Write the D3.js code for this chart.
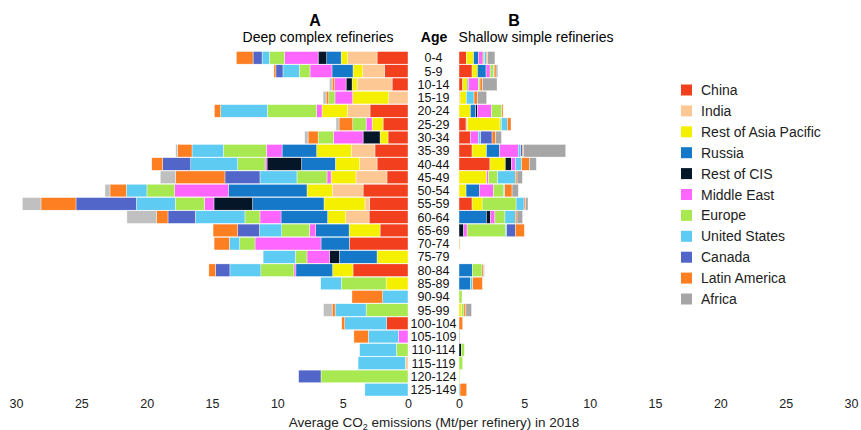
<!DOCTYPE html>
<html>
<head>
<meta charset="utf-8">
<script src="https://cdn.jsdelivr.net/npm/d3@7"></script>
<style>
  body { margin: 0; background: #fff; }
  svg { font-family: "Liberation Sans", Arial, sans-serif; }
  .tick text { font-family: "Liberation Sans", Arial, sans-serif; font-size: 12.5px; fill: #222; }
</style>
</head>
<body>
<svg id="chart" width="861" height="430"></svg>
<script>
// regions in stacking order, from the age column outwards
var regions = ["China", "India", "Rest of Asia Pacific", "Russia", "Rest of CIS", "Middle East",
    "Europe", "United States", "Canada", "Latin America", "Africa"]

var ages = ["0-4", "5-9", "10-14", "15-19", "20-24", "25-29", "30-34", "35-39", "40-44", "45-49",
    "50-54", "55-59", "60-64", "65-69", "70-74", "75-79", "80-84", "85-89", "90-94", "95-99",
    "100-104", "105-109", "110-114", "115-119", "120-124", "125-149"]

var tickValues = [0, 5, 10, 15, 20, 25, 30]

// Mt CO2 per refinery, one row per age group, columns follow regions
var deepValues = [
    [2.37, 2.24, 0.51, 1.10, 0.66, 2.58, 1.15, 0.56, 0.69, 1.28, 0],
    [1.81, 1.66, 0.74, 1.61, 0, 1.68, 0.82, 1.25, 0.54, 0.15, 0],
    [1.22, 2.68, 0.38, 0, 0.46, 0.87, 0, 0, 0, 0.2, 0.2],
    [0, 1.48, 2.76, 0, 0, 1.35, 0.48, 0, 0, 0.2, 0.23],
    [2.91, 1.73, 1.94, 0, 0, 0.41, 3.78, 3.57, 0, 0.48, 0],
    [1.91, 0, 0.84, 0, 0, 0.46, 1.02, 0, 0, 1.05, 0.23],
    [1.53, 0, 0.61, 0, 1.30, 2.27, 1.17, 0, 0, 0.77, 0.26],
    [2.53, 1.81, 2.65, 2.65, 0, 1.20, 3.29, 2.40, 0, 1.10, 0.15],
    [2.37, 1.33, 1.86, 2.58, 2.65, 0.15, 2.09, 3.60, 2.14, 0.84, 0],
    [1.61, 2.37, 1.91, 0, 0, 0.31, 2.30, 2.83, 2.68, 3.78, 1.17],
    [3.44, 2.35, 1.94, 6.02, 0, 4.11, 2.12, 1.58, 0, 1.25, 0.38],
    [2.93, 0.36, 3.14, 5.46, 2.96, 0.74, 2.22, 2.98, 4.62, 2.68, 1.43],
    [2.98, 1.79, 1.38, 3.57, 0, 1.61, 1.15, 3.80, 2.09, 0.87, 2.27],
    [2.14, 0, 2.37, 2.55, 0, 0.48, 2.12, 1.71, 1.66, 1.89, 0],
    [4.49, 0, 0, 2.17, 0, 5.05, 1.17, 0.79, 0, 1.17, 0],
    [0, 0, 2.37, 2.88, 0.77, 1.71, 0.89, 2.47, 0, 0, 0],
    [4.21, 0, 1.56, 2.81, 0, 0.15, 2.53, 2.37, 1.10, 0.51, 0],
    [0, 0, 1.68, 0, 0, 0, 3.42, 1.58, 0, 0, 0],
    [0, 0, 0, 0, 0, 0, 0, 1.94, 0, 2.35, 0],
    [0, 0, 0, 0, 0, 0, 3.21, 2.37, 0, 0.23, 0.66],
    [1.63, 0, 0, 0, 0, 0, 0, 3.21, 0, 0.23, 0],
    [0, 0, 0, 0, 0, 0.74, 0, 2.30, 0, 1.10, 0],
    [0, 0, 0, 0, 0, 0, 0.89, 2.81, 0, 0, 0],
    [0, 0.2, 0, 0, 0, 0, 0, 3.62, 0, 0, 0],
    [0, 0, 0, 0, 0, 0, 6.66, 0, 1.71, 0, 0],
    [0, 0, 0, 0, 0, 0, 0, 3.3, 0, 0, 0]
]

var shallowValues = [
    [0.56, 0, 0.56, 0.36, 0, 0.36, 0.1, 0.15, 0, 0.1, 0.56],
    [1.0, 0, 0.41, 0.66, 0, 0.31, 0.26, 0.05, 0, 0.15, 0.13],
    [0.28, 0, 0.36, 0.1, 0, 0.74, 0.13, 0, 0, 0.2, 1.10],
    [0, 0.08, 0.48, 0, 0, 0, 0, 0.59, 0, 0.26, 0.71],
    [0, 0, 0.87, 0.41, 0.13, 1.07, 0.79, 0, 0, 0.1, 0],
    [0.54, 0.1, 2.5, 0, 0, 0, 0.1, 0.46, 0, 0.28, 0],
    [0.87, 0, 0, 0, 0, 0.61, 0, 0.18, 0.87, 0.26, 0.46],
    [1.0, 0, 1.10, 1.0, 0, 1.43, 0, 0.2, 0.15, 0.08, 3.21],
    [2.37, 0, 1.17, 0, 0.46, 0.31, 0, 0.48, 0, 0.59, 0.54],
    [0, 0, 2.12, 0, 0, 0.13, 0.71, 1.35, 0, 0.13, 0.41],
    [0, 0, 0.54, 1.02, 0, 1.07, 0.77, 0.1, 0, 0.56, 0.48],
    [1.0, 0, 0.77, 0, 0, 0, 2.60, 0.61, 0, 0.1, 0.2],
    [0, 0, 0, 2.09, 0.33, 0.33, 0.77, 0.79, 0, 0.13, 0.43],
    [0, 0, 0, 0, 0.36, 0.26, 2.93, 0.1, 0.66, 0.69, 0],
    [0, 0.08, 0, 0, 0, 0, 0, 0, 0, 0, 0],
    [0, 0, 0, 0, 0, 0, 0, 0, 0, 0, 0],
    [0, 0, 0, 1.02, 0, 0, 0.74, 0, 0, 0.1, 0.08],
    [0, 0, 0, 0.87, 0, 0, 0, 0.18, 0, 0.74, 0],
    [0, 0, 0, 0, 0, 0, 0.23, 0, 0, 0, 0],
    [0, 0, 0.2, 0, 0, 0, 0.18, 0, 0, 0.15, 0.43],
    [0, 0, 0, 0, 0, 0, 0, 0, 0, 0.28, 0],
    [0, 0, 0, 0, 0, 0, 0, 0, 0, 0, 0.06],
    [0, 0, 0, 0, 0.18, 0, 0.23, 0, 0, 0, 0],
    [0, 0, 0, 0, 0, 0, 0.28, 0, 0, 0, 0],
    [0, 0, 0, 0, 0, 0, 0.06, 0, 0, 0, 0],
    [0, 0, 0, 0, 0, 0, 0, 0.08, 0, 0.51, 0]
]

var colors = ["#f2401f", "#fec894", "#f5f000", "#1578c8", "#061629", "#ff66ff",
    "#a8e851", "#5ecbf2", "#5166c8", "#fe7f22", "#a6a6a6"]
// left panel uses a lighter grey for Africa
var deepColors = colors.slice(0, 10).concat(["#c0c0c0"])

var svg = d3.select("#chart")

var y = d3.scaleBand().domain(ages).range([51.5, 396]).paddingInner(0.05)
var xLeft = d3.scaleLinear().domain([0, 30]).range([408, 16])
var xRight = d3.scaleLinear().domain([0, 30]).range([459, 851])

function drawPanel(values, x, cols, cls) {
    // turn each age row into stacked segments
    var rows = ages.map(function(age, i) {
        var row = { age: age }
        regions.forEach(function(r, j) { row[r] = values[i][j] })
        return row
    })
    var series = d3.stack().keys(regions)(rows)

    var g = svg.append("g").attr("class", cls)
    g.selectAll("g")
        .data(series)
        .enter().append("g")
        .attr("fill", function(d, i) { return cols[i] })
        .selectAll("rect")
        .data(function(d) { return d.filter(function(s) { return s[1] - s[0] > 0 }) })
        .enter().append("rect")
        .attr("x", function(d) { return Math.min(x(d[0]), x(d[1])) })
        .attr("width", function(d) { return Math.abs(x(d[1]) - x(d[0])) })
        .attr("y", function(d) { return y(d.data.age) })
        .attr("height", y.bandwidth())
        .attr("stroke", "#fff")
        .attr("stroke-width", 0.4)

    var axis = d3.axisBottom(x).tickValues(tickValues).tickSize(0).tickPadding(2)
    svg.append("g")
        .attr("transform", "translate(0,397)")
        .call(axis)
        .call(function(a) { a.select(".domain").remove() })
}

drawPanel(deepValues, xLeft, deepColors, "deep")
drawPanel(shallowValues, xRight, colors, "shallow")

// age labels in the middle
svg.append("g").selectAll("text")
    .data(ages)
    .enter().append("text")
    .attr("x", 433.5)
    .attr("y", function(d) { return y(d) + y.bandwidth() / 2 })
    .attr("dy", "0.36em")
    .attr("text-anchor", "middle")
    .style("font-size", "12.5px")
    .attr("fill", "#111")
    .text(function(d) { return d })

// headings
svg.append("text").attr("x", 315).attr("y", 26).attr("text-anchor", "middle")
    .style("font-size", "16px").style("font-weight", "bold").text("A")
svg.append("text").attr("x", 318).attr("y", 42).attr("text-anchor", "middle")
    .style("font-size", "14px").text("Deep complex refineries")
svg.append("text").attr("x", 514).attr("y", 26).attr("text-anchor", "middle")
    .style("font-size", "16px").style("font-weight", "bold").text("B")
svg.append("text").attr("x", 536).attr("y", 42).attr("text-anchor", "middle")
    .style("font-size", "14px").text("Shallow simple refineries")
svg.append("text").attr("x", 434).attr("y", 42).attr("text-anchor", "middle")
    .style("font-size", "14px").style("font-weight", "bold").text("Age")

// axis title
var title = svg.append("text").attr("x", 434).attr("y", 426.5).attr("text-anchor", "middle")
    .style("font-size", "13.5px").attr("fill", "#222")
title.append("tspan").text("Average CO")
title.append("tspan").attr("dy", 3).style("font-size", "9px").text("2")
title.append("tspan").attr("dy", -3).text(" emissions (Mt/per refinery) in 2018")

// legend
var legend = svg.append("g").selectAll("g")
    .data(regions)
    .enter().append("g")
    .attr("transform", function(d, i) { return "translate(681," + (90 + i * 20.9) + ")" })

legend.append("rect")
    .attr("x", 0).attr("y", -5.5)
    .attr("width", 11).attr("height", 11)
    .attr("fill", function(d, i) { return colors[i] })

legend.append("text")
    .attr("x", 20).attr("dy", "0.36em")
    .style("font-size", "14px").attr("fill", "#222")
    .text(function(d) { return d })
</script>
</body>
</html>
